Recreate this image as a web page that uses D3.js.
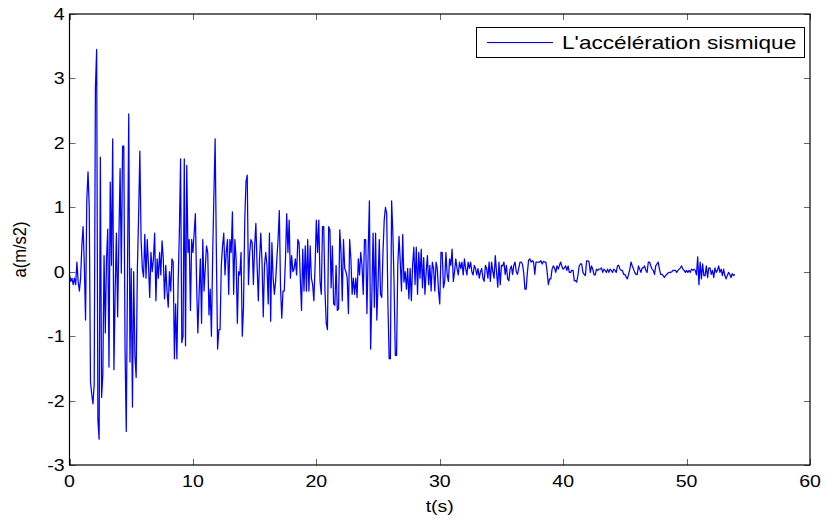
<!DOCTYPE html>
<html>
<head>
<meta charset="utf-8">
<script src="https://cdn.jsdelivr.net/npm/d3@7"></script>
<style>
  html, body { margin: 0; padding: 0; background: #fff; }
  svg { display: block; font-family: "Liberation Sans", Arial, sans-serif; }
</style>
</head>
<body>
<svg id="chart" width="826" height="516"></svg>
<script>
// ---- data (sampled every 0.1 s) ----
const sampleStep = 0.1;
const strongPhase = [ // 0 - 10 s
  -0.05, -0.15, -0.1, -0.2, -0.1, -0.2, 0.15, -0.15, -0.3, -0.1,
  0.4, 0.7, 0.1, -0.75, 1.1, 1.55, 1.0, -1.7, -1.9, -2.05,
  -1.75, 2.85, 3.45, -2.3, -2.6, 1.78, -1.95, -1.6, 0.25, -0.95,
  0.2, 0.66, -1.48, 1.39, 0.1, 2.06, -1.52, -0.3, 0.6, -0.7,
  0.5, 1.6, -0.02, 1.95, 1.95, -1.2, -2.48, 0.0, 2.45, -1.4,
  0.05, -2.1, 0.0, -1.3, -1.64, 0.04, 0.87, 1.87, 0.5, 0.05,
  -0.08, 0.58, -0.1, 0.5, 0.1, -0.4, 0.3, 0.0, 0.2, 0.6,
  -0.45, 0.2, -0.1, 0.3, -0.05, 0.48, 0.2, -0.42, 0.1, -0.3,
  -0.55, 0.0, -0.3, 0.2, 0.15, -1.35, -0.5, -1.35, -0.2, 0.6,
  1.75, -1.1, -1.0, 1.75, -1.15, 1.65, 0.3, 0.5, -0.6, 0.5
];
const midPhase = [ // 10 - 27 s
  0.3, 0.6, 0.9, -0.2, -0.95, -0.35, 0.2, -0.8, 0.5, -0.3,
  0.05, 0.4, 0.3, -0.67, -0.27, -1.0, 0.25, 1.2, 2.06, 0.3,
  -1.2, -0.9, -0.9, 0.1, 0.4, 0.6, -0.05, 0.3, 0.5, -0.35,
  0.5, 0.3, 0.93, -0.35, 0.5, 0.2, -0.8, 0.0, -0.05, 0.3,
  -1.0, -0.55, 0.8, 1.4, 1.5, -0.2, 0.3, 0.5, 0.45, -0.2,
  0.4, 0.75, 0.1, -0.45, 0.2, 0.6, 0.15, -0.7, 0.1, 0.3,
  0.1, -0.5, 0.6, -0.77, 0.45, -0.1, -0.35, -0.15, 0.2, 0.5,
  0.95, -0.25, -0.72, -0.3, -0.3, 0.2, 0.9, 0.3, 0.8, -0.1,
  0.25, 0.0, 0.05, 0.2, -0.05, 0.5, 0.45, -0.1, -0.6, 0.35,
  -0.3, 0.4, -0.3, 0.5, -0.3, 0.4, -0.1, -0.2, -0.45, 0.1,
  0.8, 0.3, 0.8, -0.15, -0.35, 0.7, 0.7, -0.3, -0.8, -0.9,
  0.7, 0.65, -0.25, 0.4, -0.5, -0.52, 0.1, -0.6, -0.58, 0.65,
  0.3, -0.45, 0.5, 0.05, 0.0, -0.1, -0.65, 0.5, 0.2, -0.35,
  -0.1, -0.35, -0.1, -0.4, 0.2, -0.05, 0.3, 0.1, -0.35, 0.5,
  0.5, -0.65, 0.3, 1.1, -1.2, -0.35, 0.6, -0.55, 0.6, -0.75,
  -0.2, 0.5, -0.35, -0.4, 0.3, 0.8, 1.0, 0.9, -0.5, -1.35,
  -1.35, 1.1, 0.6, -0.2, -1.3, -1.3, 0.1, 0.55, 0.15, -0.3
];
const decayPhase = [ // 27 - 54 s
  0.58, -0.16, 0.0, -0.27, 0.05, -0.42, 0.05, -0.45, 0.1, 0.38,
  -0.2, 0.38, -0.35, 0.3, -0.1, 0.35, -0.25, 0.22, -0.35, 0.0,
  0.25, -0.2, 0.1, -0.3, 0.15, 0.05, -0.3, 0.15, 0.05, -0.3,
  -0.5, 0.3, 0.3, -0.25, -0.15, 0.3, -0.05, -0.15, 0.2, 0.1,
  0.35, -0.15, 0.0, 0.2, 0.05, -0.05, 0.15, 0.05, 0.15, -0.05,
  0.2, 0.05, -0.05, 0.15, 0.05, 0.15, 0.0, -0.05, 0.1, 0.05,
  -0.05, 0.05, -0.1, 0.0, 0.05, -0.1, -0.15, 0.1, 0.05, -0.1,
  0.15, -0.15, 0.15, 0.0, -0.1, 0.25, 0.0, -0.24, 0.15, -0.2,
  0.1, 0.09, 0.15, -0.04, 0.1, -0.11, -0.14, 0.04, 0.09, -0.04,
  0.1, 0.15, 0.0, -0.04, 0.05, 0.15, 0.15, 0.12, -0.01, -0.27,
  -0.27, -0.01, 0.18, 0.2, 0.15, 0.17, 0.15, -0.04, 0.15, 0.15,
  0.15, 0.15, 0.17, 0.12, 0.16, 0.15, 0.15, 0.0, -0.2, -0.11,
  -0.11, 0.04, 0.09, 0.06, -0.01, 0.09, 0.04, 0.1, 0.15, 0.08,
  0.04, 0.06, 0.09, 0.02, 0.09, -0.01, -0.01, 0.02, 0.02, -0.14,
  -0.14, -0.16, -0.05, 0.09, 0.12, 0.12, -0.01, -0.04, -0.06, 0.17,
  0.17, 0.15, -0.01, 0.09, 0.04, -0.05, -0.05, 0.04, 0.02, 0.04,
  0.04, 0.06, -0.01, 0.04, 0.02, -0.01, 0.04, -0.01, 0.04, 0.02,
  -0.01, 0.04, 0.02, -0.01, 0.09, 0.1, 0.04, 0.02, 0.02, -0.04,
  -0.04, -0.08, -0.11, -0.04, 0.04, 0.15, 0.09, 0.04, -0.01, -0.04,
  -0.04, 0.09, 0.04, -0.01, 0.06, 0.06, 0.09, 0.02, -0.01, 0.15,
  0.15, 0.09, 0.04, 0.02, -0.04, 0.09, 0.12, 0.15, 0.04, -0.04,
  -0.04, -0.06, -0.09, -0.06, -0.04, -0.02, -0.01, -0.01, 0.0, 0.02,
  0.02, 0.02, -0.01, 0.02, 0.04, 0.06, 0.09, 0.04, 0.02, -0.01,
  0.02, -0.01, 0.02, -0.01, 0.04, 0.02, 0.04, 0.02, -0.05, 0.23,
  -0.2, 0.15, -0.11, 0.12, -0.06, -0.06, 0.09, -0.09, 0.06, 0.06,
  -0.04, 0.02, -0.09, 0.06, -0.01, 0.02, 0.09, -0.01, 0.04, -0.06,
  0.04, -0.06, -0.11, -0.06, -0.01, -0.04, -0.09, -0.03, -0.06, -0.04
];
const xTicks = [0, 10, 20, 30, 40, 50, 60];
const yTicks = [-3, -2, -1, 0, 1, 2, 3, 4];
const seriesName = "L'accélération sismique";
const xLabel = "t(s)";
const yLabel = "a(m/s2)";

// ---- build series ----
const accel = strongPhase.concat(midPhase, decayPhase);
const series = accel.map((a, i) => ({ t: +(i * sampleStep).toFixed(2), a }));

// ---- layout ----
const svg = d3.select("#chart");
const L = 69.5, R = 810, T = 14, B = 465;
const x = d3.scaleLinear().domain([0, 60]).range([L, R]);
const y = d3.scaleLinear().domain([-3, 4]).range([B, T]);
const SX = 1.15; // horizontal stretch of the original picture's text

function stretchedText(g, px, py, str, anchor, fs, sx, rotate) {
  const tr = rotate
    ? `translate(${px},${py}) rotate(-90) scale(1,${sx})`
    : `translate(${px},${py}) scale(${sx},1)`;
  return g.append("text")
    .attr("transform", tr)
    .attr("text-anchor", anchor)
    .attr("font-size", fs)
    .attr("fill", "#000")
    .text(str);
}

svg.append("rect").attr("width", 826).attr("height", 516).attr("fill", "#fff");

// ticks (inside, mirrored)
const tickLen = 6;
const gTicks = svg.append("g").attr("stroke", "#666").attr("stroke-width", 1);
xTicks.forEach(v => {
  const px = Math.round(x(v)) + 0.5;
  gTicks.append("line").attr("x1", px).attr("x2", px).attr("y1", B).attr("y2", B - tickLen);
  gTicks.append("line").attr("x1", px).attr("x2", px).attr("y1", T).attr("y2", T + tickLen);
});
yTicks.forEach(v => {
  const py = Math.round(y(v)) + 0.5;
  gTicks.append("line").attr("x1", L).attr("x2", L + tickLen).attr("y1", py).attr("y2", py);
  gTicks.append("line").attr("x1", R).attr("x2", R - tickLen).attr("y1", py).attr("y2", py);
});

// data line
const line = d3.line().x(d => x(d.t)).y(d => y(d.a));
svg.append("path")
  .datum(series)
  .attr("d", line)
  .attr("fill", "none")
  .attr("stroke", "#0000ff")
  .attr("stroke-width", 1.25)
  .attr("stroke-linejoin", "round");

// box
svg.append("rect")
  .attr("x", L).attr("y", T)
  .attr("width", R - L).attr("height", B - T)
  .attr("fill", "none").attr("stroke", "#000").attr("stroke-width", 1.2);

// tick labels
const gxl = svg.append("g");
xTicks.forEach(v => stretchedText(gxl, x(v), B + 22, String(v), "middle", 17, SX));
const gyl = svg.append("g");
yTicks.forEach(v => stretchedText(gyl, L - 5, y(v) + 6, String(v), "end", 17, SX));

// axis labels
stretchedText(svg, (L + R) / 2, 512, xLabel, "middle", 17, SX);
stretchedText(svg, 26, (T + B) / 2 + 10, yLabel, "middle", 16.5, SX, true);

// legend
const lg = svg.append("g");
lg.append("rect")
  .attr("x", 476.5).attr("y", 27.5).attr("width", 328).attr("height", 30)
  .attr("fill", "#fff").attr("stroke", "#000").attr("stroke-width", 1);
lg.append("line")
  .attr("x1", 487).attr("x2", 553).attr("y1", 42.5).attr("y2", 42.5)
  .attr("stroke", "#0000ff").attr("stroke-width", 1);
stretchedText(lg, 562, 49, seriesName, "start", 19, 1.19);
</script>
</body>
</html>
